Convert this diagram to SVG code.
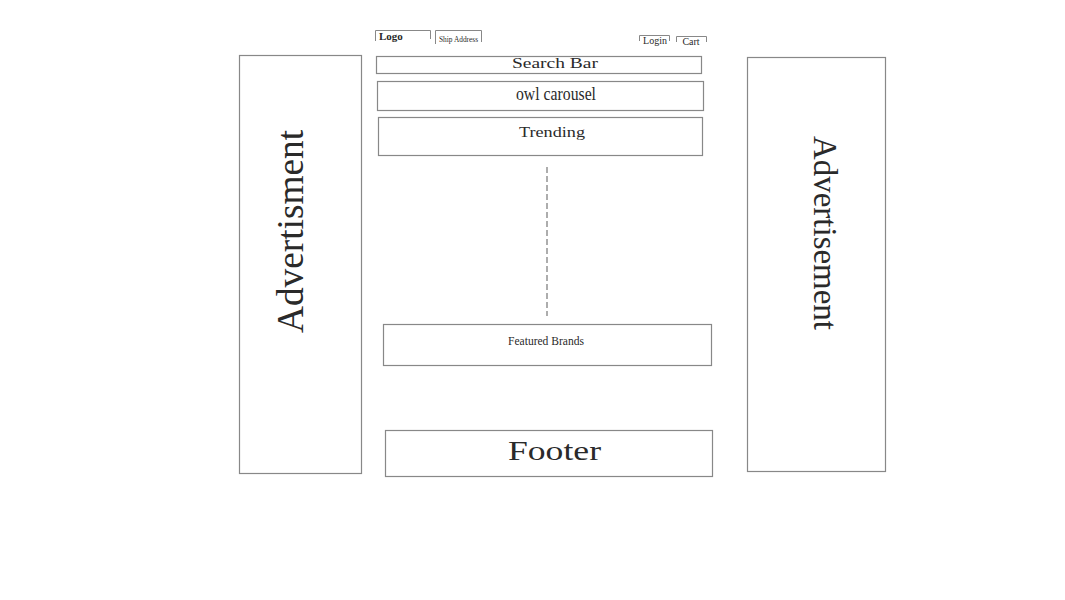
<svg xmlns="http://www.w3.org/2000/svg" width="1065" height="600" viewBox="0 0 1065 600">
<style>
.box{fill:#fff;stroke:#888;stroke-width:1.2}
.br{fill:none;stroke:#888;stroke-width:1}
.t{font-family:"Liberation Serif","Times New Roman",serif;fill:#2a2a2a;text-anchor:middle}
.dash{stroke:#777;stroke-width:1.2;stroke-dasharray:6 3;fill:none}
</style>
<rect width="1065" height="600" fill="#fff"/>
<g id="logo">
<path class="br" d="M375.5,41 V30.5 H430.5 V39"/>
<text class="t" x="379" y="40" font-size="11" font-weight="bold" text-anchor="start" style="text-anchor:start">Logo</text>
</g>
<g id="ship-address">
<path class="br" d="M435.5,44 V30.5 H481.5 V42"/>
<text class="t" x="439" y="42" font-size="9" style="text-anchor:start" textLength="39" lengthAdjust="spacingAndGlyphs">Ship Address</text>
</g>
<g id="login">
<path class="br" d="M639.5,41 V35.5 H669.5 V41"/>
<text class="t" x="655" y="44" font-size="10">Login</text>
</g>
<g id="cart">
<path class="br" d="M676.5,42 V36.5 H706.5 V42"/>
<text class="t" x="691" y="45" font-size="10">Cart</text>
</g>
<g id="search-bar">
<rect class="box" x="376.5" y="56.5" width="325" height="17"/>
<text class="t" x="555" y="68" font-size="14" textLength="86" lengthAdjust="spacingAndGlyphs">Search Bar</text>
</g>
<g id="owl-carousel">
<rect class="box" x="377.5" y="81.5" width="326" height="29"/>
<text class="t" x="556" y="100" font-size="19" textLength="80" lengthAdjust="spacingAndGlyphs">owl carousel</text>
</g>
<g id="trending">
<rect class="box" x="378.5" y="117.5" width="324" height="38"/>
<text class="t" x="552" y="137" font-size="14" textLength="66" lengthAdjust="spacingAndGlyphs">Trending</text>
</g>
<g id="connectors">
<line class="dash" x1="547" y1="167" x2="547" y2="316"/>
</g>
<g id="featured-brands">
<rect class="box" x="383.5" y="324.5" width="328" height="41"/>
<text class="t" x="546" y="345" font-size="13" textLength="76" lengthAdjust="spacingAndGlyphs">Featured Brands</text>
</g>
<g id="footer">
<rect class="box" x="385.5" y="430.5" width="327" height="46"/>
<text class="t" x="554.5" y="460" font-size="28" textLength="93" lengthAdjust="spacingAndGlyphs">Footer</text>
</g>
<g id="ad-left">
<rect class="box" x="239.5" y="55.5" width="122" height="418"/>
<text class="t" transform="translate(303,231.5) rotate(-90)" x="0" y="0" font-size="38" textLength="203" lengthAdjust="spacingAndGlyphs">Advertisment</text>
</g>
<g id="ad-right">
<rect class="box" x="747.5" y="57.5" width="138" height="414"/>
<text class="t" transform="translate(814,233) rotate(90)" x="0" y="0" font-size="34" textLength="194" lengthAdjust="spacingAndGlyphs">Advertisement</text>
</g>
</svg>
